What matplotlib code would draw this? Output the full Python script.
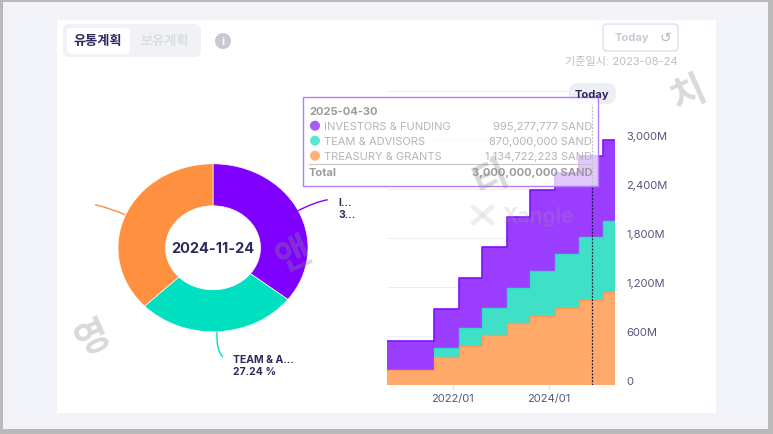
import datetime as dt
import matplotlib
matplotlib.use('Agg')
import matplotlib.pyplot as plt
from matplotlib.patches import FancyBboxPatch, Rectangle, Circle, PathPatch
from matplotlib.path import Path
from matplotlib.transforms import ScaledTranslation
import numpy as np

plt.rcParams['font.family'] = ['Inter', 'Noto Sans CJK KR', 'DejaVu Sans']

W, H = 773, 435
NAVY = '#2b2a5e'

# vesting steps
step_dates = ['2020-08-20', '2021-08-14', '2022-02-14', '2022-08-14', '2023-02-14',
              '2023-08-14', '2024-02-14', '2024-08-14', '2025-02-14', '2025-05-18']
treasury = [184, 339, 474, 612, 755, 849, 943, 1045, 1135, 1135]
team = [0, 114, 220, 327, 429, 543, 657, 764, 870, 870]
investors = [358, 478, 616, 747, 869, 995, 996, 991, 995, 995]

y_ticks = [0, 600, 1200, 1800, 2400, 3000, 3600]
y_labels = ['0', '600M', '1,200M', '1,800M', '2,400M', '3,000M', '']
x_tick_dates = ['2022-01-01', '2024-01-01']
x_tick_labels = ['2022/01', '2024/01']
today_date = '2024-11-24'

# donut shares on 2024-11-24
pie_shares = [35.55, 27.24, 37.21]
pie_colors = ['#8000ff', '#00dfc0', '#ff9040']

tooltip_date = '2025-04-30'
tooltip_names = ['INVESTORS & FUNDING', 'TEAM & ADVISORS', 'TREASURY & GRANTS']
tooltip_values = ['995,277,777 SAND', '870,000,000 SAND', '1,134,722,223 SAND']
tooltip_total = '3,000,000,000 SAND'
tooltip_dots = ['#a45cf5', '#5fe6d0', '#ffb07a']


def box_axes(left, top, right, bottom):
    return fig.add_axes([left / W, 1 - bottom / H, (right - left) / W, (bottom - top) / H])


def pill(ax, x0, y0, x1, y1, r, **kw):
    ax.add_patch(FancyBboxPatch((x0 + r, y0 + r), x1 - x0 - 2 * r, y1 - y0 - 2 * r,
                                boxstyle=f'round,pad={r}', **kw))


def curve(ax, pts, color):
    codes = [Path.MOVETO, Path.CURVE3, Path.CURVE3]
    ax.add_patch(PathPatch(Path(pts, codes), fc='none', ec=color, lw=1))


fig = plt.figure(figsize=(W / 100, H / 100), dpi=100)

# page background
bg = fig.add_axes([0, 0, 1, 1], zorder=0)
bg.set_xlim(0, W)
bg.set_ylim(H, 0)
bg.axis('off')
bg.add_patch(Rectangle((0, 0), W, H, fc='#f1f3f8', ec='none'))
for r in [(0, 0, W, 3), (0, H - 5, W, 5), (0, 0, 3, H), (W - 5, 0, 5, H)]:
    bg.add_patch(Rectangle(r[:2], r[2], r[3], fc='#b9b9b9', ec='none'))
bg.add_patch(Rectangle((57, 21), 659, 392.5, fc='white', ec='none'))

# stacked steps
ax = box_axes(387.3, 92, 615, 386)
ax.set_zorder(1)
ax.patch.set_alpha(0)
dates = [dt.date.fromisoformat(d) for d in step_dates]
t1 = np.array(treasury)
t2 = t1 + np.array(team)
t3 = t2 + np.array(investors)
ax.fill_between(dates, 0, t1, step='post', color='#ffa96b', lw=0, zorder=3)
ax.fill_between(dates, t1, t2, step='post', color='#40e0c8', lw=0, zorder=3)
ax.fill_between(dates, t2, t3, step='post', color='#9b3dff', lw=0, zorder=3)
ax.step(dates, t1, where='post', color='#ff9a55', lw=1.0, zorder=4)
ax.step(dates[1:], t2[1:], where='post', color='#2fdcc2', lw=1.0, zorder=4)
ax.step(dates, t3, where='post', color='#7f10ff', lw=1.2, zorder=4)
ax.set_xlim(dates[0], dates[-1])
ax.set_ylim(0, 3600)
ax.set_yticks(y_ticks)
ax.set_yticklabels(y_labels, color='#55557a', fontsize=8, va='bottom')
ax.yaxis.tick_right()
ax.tick_params(axis='y', length=0, pad=8)
shift = ScaledTranslation(0, -1.5 / 100, fig.dpi_scale_trans)
for lab in ax.get_yticklabels():
    lab.set_transform(lab.get_transform() + shift)
ax.grid(axis='y', color='#eeeef3', lw=0.8, zorder=0)
ax.set_xticks([dt.date.fromisoformat(d) for d in x_tick_dates])
ax.set_xticklabels(x_tick_labels, color='#55557a', fontsize=8)
ax.tick_params(axis='x', length=3, color='#d8d8e2', width=0.8, pad=3)
for s in ax.spines.values():
    s.set_visible(False)
ax.axvline(dt.date.fromisoformat(today_date), color='#1a1a3a', lw=0.9, ls=(0, (1.5, 1.2)), ymax=0.955, zorder=5)

# donut
dn = box_axes(118, 164.8, 308, 332.8)
dn.set_zorder(1)
dn.pie(pie_shares, colors=pie_colors, startangle=90, counterclock=False, radius=1,
       wedgeprops=dict(width=0.5, edgecolor='white', linewidth=0.5))
dn.set_aspect('auto')
dn.set_xlim(-1, 1)
dn.set_ylim(-1, 1)
dn.text(0, 0, today_date, ha='center', va='center', fontsize=10.5, fontweight='bold', color=NAVY)

# everything on top, in pixels
top = fig.add_axes([0, 0, 1, 1], zorder=2)
top.set_xlim(0, W)
top.set_ylim(H, 0)
top.axis('off')
top.patch.set_alpha(0)

# tabs
pill(top, 63, 25, 201, 58, 6, fc='#f1f2f6', ec='none')
pill(top, 67, 29, 130, 55, 5, fc='white', ec='none')
top.text(98, 42, '유통계획', ha='center', va='center', fontsize=9.5, fontweight='bold', color=NAVY)
top.text(165, 42, '보유계획', ha='center', va='center', fontsize=9.5, fontweight='bold', color='#dcdde3')
top.add_patch(Circle((223, 42), 8, fc='#c6c8d6', ec='none'))
top.text(223, 42, 'i', ha='center', va='center', fontsize=8, fontweight='bold', color='white')

# today button
pill(top, 603, 25, 678, 52, 4, fc='white', ec='#dedfe6', lw=1)
top.text(632, 38, 'Today', ha='center', va='center', fontsize=8, fontweight='bold', color='#c8c9d2')
top.text(665, 38, '↺', ha='center', va='center', fontsize=10, color='#b5b6c0', family='DejaVu Sans')
top.text(678, 62, '기준일시: 2023-08-24', ha='right', va='center', fontsize=8, color='#bdbec6')

# today pill
pill(top, 569, 84, 616, 105, 9, fc='#eeeef6', ec='none')
top.text(592, 94.5, 'Today', ha='center', va='center', fontsize=8, fontweight='bold', color=NAVY)

# donut labels
curve(top, [(298, 211.7), (315, 203), (327.7, 200.7)], '#8000ff')
curve(top, [(217, 332.7), (216, 352), (223, 358)], '#00dfc0')
curve(top, [(125, 215.7), (110, 209), (95, 205.7)], '#ff9040')
top.text(338, 203, 'I...', va='center', fontsize=7.5, fontweight='bold', color=NAVY)
top.text(338, 215.5, '3...', va='center', fontsize=7.5, fontweight='bold', color=NAVY)
top.text(233, 360, 'TEAM & A...', va='center', fontsize=7.5, fontweight='bold', color=NAVY)
top.text(233, 372.5, '27.24 %', va='center', fontsize=7.5, fontweight='bold', color=NAVY)

# tooltip
top.add_patch(Rectangle((302.5, 98), 295.5, 89, fc=(1, 1, 1, 0.72), ec='#b57cf7', lw=1))
top.text(309, 112, tooltip_date, va='center', fontsize=8, fontweight='bold', color='#9b9b9b')
for i, y in enumerate([126.7, 141.7, 156.7]):
    top.add_patch(Circle((315, y), 5, fc=tooltip_dots[i], ec='none'))
    top.text(324, y, tooltip_names[i], va='center', fontsize=8, color='#b5b5b5')
    top.text(592, y, tooltip_values[i], ha='right', va='center', fontsize=8, color='#b5b5b5')
top.plot([309, 592], [165, 165], color='#c4c4c4', lw=0.8)
top.text(309, 172.7, 'Total', va='center', fontsize=8, fontweight='bold', color='#9b9b9b')
top.text(592, 172.7, tooltip_total, ha='right', va='center', fontsize=8, fontweight='bold', color='#9b9b9b')

# watermarks
for ch, x, y in [('영', 93, 338), ('앤', 293, 255), ('티', 490, 178), ('치', 688, 94)]:
    top.text(x, y, ch, ha='center', va='center', fontsize=27, fontweight='bold', rotation=24,
             color='#8c8c8c', alpha=0.33, family='Noto Sans CJK KR')
top.plot([473, 492], [208, 224], color='#c8c8c8', lw=3.5, alpha=0.3, solid_capstyle='round')
top.plot([473, 492], [224, 208], color='#c8c8c8', lw=3.5, alpha=0.3, solid_capstyle='round')
top.text(502, 217, 'Xangle', va='center', fontsize=15, fontweight='bold', color='#a0a0a0', alpha=0.22)

fig.savefig('out.png', dpi=100)
